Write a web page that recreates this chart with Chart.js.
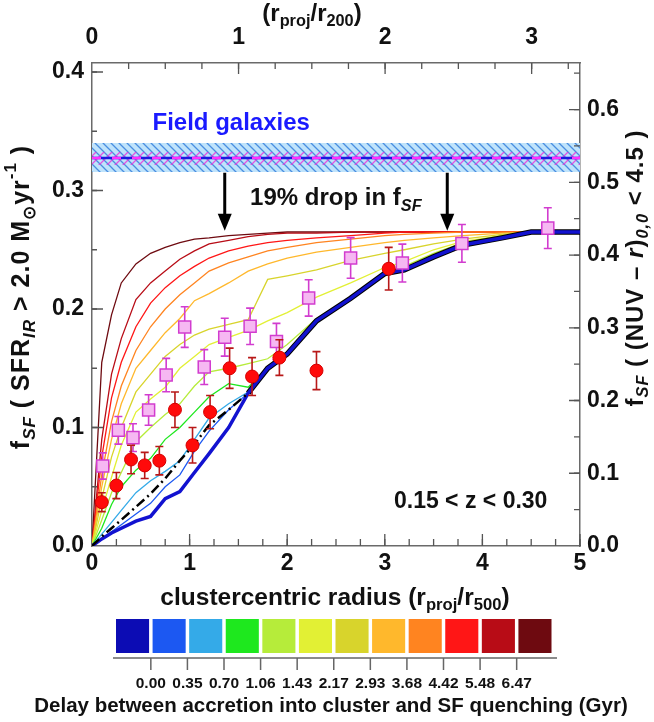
<!DOCTYPE html>
<html>
<head>
<meta charset="utf-8">
<script src="https://cdn.jsdelivr.net/npm/chart.js@4.4.1/dist/chart.umd.min.js"></script>
<style>
  html, body { margin: 0; padding: 0; background: #fff; }
  #wrap { width: 654px; height: 722px; }
</style>
</head>
<body>
<div id="wrap"><canvas id="c" width="654" height="722"></canvas></div>
<script>
// radial grid of the quenching models (r_proj / r500)
const radius = [0, 0.1, 0.2, 0.3, 0.45, 0.6, 0.75, 0.9, 1.05, 1.2, 1.4, 1.6, 1.8, 2.0, 2.3, 2.65, 3.0, 3.2, 3.5, 3.8, 4.2, 4.5, 5.0];

// model f_SF for each quenching delay
const delay000 = [0, 0.006, 0.011, 0.015, 0.021, 0.025, 0.040, 0.046, 0.062, 0.078, 0.100, 0.129, 0.150, 0.162, 0.190, 0.209, 0.230, 0.233, 0.244, 0.254, 0.260, 0.265, 0.265];
const delay035 = [0, 0.006, 0.012, 0.018, 0.027, 0.036, 0.050, 0.060, 0.080, 0.097, 0.115, 0.129, 0.150, 0.162, 0.190, 0.209, 0.230, 0.233, 0.244, 0.254, 0.260, 0.265, 0.265];
const delay070 = [0, 0.010, 0.020, 0.030, 0.045, 0.055, 0.063, 0.072, 0.090, 0.108, 0.120, 0.130, 0.150, 0.162, 0.190, 0.209, 0.230, 0.233, 0.244, 0.254, 0.260, 0.265, 0.265];
const delay106 = [0, 0.015, 0.035, 0.050, 0.064, 0.074, 0.090, 0.100, 0.113, 0.126, 0.137, 0.134, 0.150, 0.162, 0.190, 0.209, 0.230, 0.233, 0.244, 0.254, 0.260, 0.265, 0.265];
const delay143 = [0, 0.022, 0.045, 0.062, 0.088, 0.100, 0.111, 0.120, 0.135, 0.147, 0.150, 0.154, 0.158, 0.170, 0.192, 0.210, 0.228, 0.236, 0.247, 0.256, 0.262, 0.265, 0.265];
const delay217 = [0, 0.030, 0.058, 0.085, 0.113, 0.124, 0.134, 0.150, 0.160, 0.170, 0.176, 0.182, 0.190, 0.197, 0.210, 0.222, 0.235, 0.240, 0.250, 0.257, 0.262, 0.265, 0.265];
const delay293 = [0, 0.040, 0.075, 0.100, 0.130, 0.145, 0.160, 0.170, 0.178, 0.183, 0.187, 0.191, 0.225, 0.228, 0.233, 0.241, 0.247, 0.250, 0.255, 0.259, 0.263, 0.265, 0.265];
const delay368 = [0, 0.050, 0.090, 0.120, 0.150, 0.165, 0.180, 0.192, 0.207, 0.213, 0.222, 0.232, 0.238, 0.243, 0.248, 0.252, 0.256, 0.258, 0.260, 0.262, 0.264, 0.265, 0.265];
const delay442 = [0, 0.060, 0.105, 0.135, 0.165, 0.185, 0.200, 0.212, 0.222, 0.232, 0.239, 0.244, 0.249, 0.252, 0.256, 0.259, 0.262, 0.263, 0.264, 0.265, 0.265, 0.265, 0.265];
const delay548 = [0, 0.075, 0.125, 0.155, 0.185, 0.205, 0.218, 0.228, 0.236, 0.243, 0.249, 0.253, 0.256, 0.258, 0.260, 0.262, 0.264, 0.265, 0.265, 0.265, 0.265, 0.265, 0.265];
const delay647 = [0, 0.090, 0.145, 0.175, 0.208, 0.222, 0.232, 0.242, 0.249, 0.255, 0.258, 0.261, 0.263, 0.264, 0.264, 0.265, 0.265, 0.265, 0.265, 0.265, 0.265, 0.265, 0.265];
const delayMax = [0, 0.155, 0.195, 0.222, 0.238, 0.247, 0.252, 0.256, 0.259, 0.260, 0.262, 0.263, 0.264, 0.265, 0.265, 0.265, 0.265, 0.265, 0.265, 0.265, 0.265, 0.265, 0.265];
// dash-dot model, only out to where it joins the envelope
const dashDot = [0, 0.008, 0.015, 0.022, 0.033, 0.044, 0.057, 0.072, 0.086, 0.102, 0.115, 0.129];

// observed f_SF, IR selected (left axis)
const irR   = [0.10, 0.25, 0.40, 0.54, 0.69, 0.85, 1.03, 1.21, 1.41, 1.64, 1.92, 2.30, 3.04];
const irF   = [0.037, 0.051, 0.073, 0.068, 0.072, 0.115, 0.085, 0.113, 0.150, 0.143, 0.159, 0.148, 0.234];
const irErr = [0.008, 0.011, 0.012, 0.011, 0.012, 0.015, 0.015, 0.014, 0.017, 0.016, 0.015, 0.016, 0.018];

// observed f_SF, NUV-r selected (right axis)
const nuvR   = [0.11, 0.27, 0.42, 0.58, 0.76, 0.95, 1.15, 1.36, 1.62, 1.89, 2.22, 2.65, 3.18, 3.79, 4.67];
const nuvF   = [0.110, 0.159, 0.149, 0.187, 0.235, 0.301, 0.246, 0.287, 0.302, 0.281, 0.341, 0.396, 0.389, 0.416, 0.437];
const nuvErr = [0.018, 0.019, 0.019, 0.021, 0.023, 0.028, 0.024, 0.026, 0.025, 0.025, 0.025, 0.028, 0.026, 0.026, 0.028];

// field value with its uncertainty band
const fieldR   = [0, 5];
const fieldMid = [0.3274, 0.3274];
const fieldLo  = [0.3156, 0.3156];
const fieldHi  = [0.3401, 0.3401];
const fieldInLo = [0.3215, 0.3215];
const fieldInHi = [0.3325, 0.3325];

// drop arrows
const arrowR = [1.36, 3.64];
const arrowFrom = 0.315;
const arrowTo = 0.266;

// colour bar
const cbColors = ['#0c0cb4', '#1c58f2', '#34aae8', '#1ee81e', '#b6ec3a', '#e2f034', '#d8d42c', '#ffb82c', '#ff8420', '#ff1616', '#b80c16', '#6e0a10'];
const cbLabels = ['0.00', '0.35', '0.70', '1.06', '1.43', '2.17', '2.93', '3.68', '4.42', '5.48', '6.47'];

const FONT = "'Liberation Sans', Arial, sans-serif";
const canvas = document.getElementById('c');
const ctxMain = canvas.getContext('2d');

function hatch(bg, line, dir) {
    const p = document.createElement('canvas');
    p.width = 8; p.height = 8;
    const g = p.getContext('2d');
    if (bg) { g.fillStyle = bg; g.fillRect(0, 0, 8, 8); }
    g.strokeStyle = line;
    g.lineWidth = 1.3;
    g.beginPath();
    if (dir > 0) {
        g.moveTo(-4, 4); g.lineTo(4, 12); g.moveTo(0, 0); g.lineTo(8, 8); g.moveTo(4, -4); g.lineTo(12, 4);
    } else {
        g.moveTo(-4, 4); g.lineTo(4, -4); g.moveTo(0, 8); g.lineTo(8, 0); g.moveTo(4, 12); g.lineTo(12, 4);
    }
    g.stroke();
    return ctxMain.createPattern(p, 'repeat');
}

function xy(xs, ys) {
    return ys.map((v, i) => ({ x: xs[i], y: v }));
}

// rich text: parts = [{t, sub, sup, it}]
function setFont(c, p, size) {
    const s = (p.sub || p.sup) ? size * 0.68 : size;
    c.font = (p.it ? 'italic ' : '') + 'bold ' + s + 'px ' + FONT;
}
function drawRich(c, parts, x, y, size, align, spacing) {
    c.letterSpacing = (spacing || 0) + 'px';
    let w = 0;
    parts.forEach(p => { setFont(c, p, size); w += c.measureText(p.t).width; });
    let cx = x;
    if (align === 'center') cx = x - w / 2;
    else if (align === 'right') cx = x - w;
    c.textBaseline = 'middle';
    c.textAlign = 'left';
    parts.forEach(p => {
        setFont(c, p, size);
        let dy = 0;
        if (p.sub) dy = size * 0.32;
        if (p.sup) dy = -size * 0.42;
        c.fillText(p.t, cx, y + dy);
        cx += c.measureText(p.t).width;
    });
    c.letterSpacing = '0px';
}

const curveList = [
    [delayMax, cbColors[11], 1.3],
    [delay647, cbColors[10], 1.3],
    [delay548, cbColors[9], 1.3],
    [delay442, cbColors[8], 1.3],
    [delay368, cbColors[7], 1.3],
    [delay293, cbColors[6], 1.3],
    [delay217, cbColors[5], 1.3],
    [delay143, cbColors[4], 1.3],
    [delay106, cbColors[3], 1.3],
    [delay070, cbColors[2], 1.3],
    [delay035, cbColors[1], 1.3]
];

const datasets = [
    { data: xy(fieldR, fieldHi), borderWidth: 0, pointRadius: 0, fill: 1, backgroundColor: hatch('#bfe3fb', '#4a8ee0', 1), order: 100 },
    { data: xy(fieldR, fieldLo), borderWidth: 0, pointRadius: 0, fill: false, order: 100 },
    { data: xy(fieldR, fieldInHi), borderWidth: 0, pointRadius: 0, fill: 3, backgroundColor: hatch(null, 'rgba(230,60,220,0.85)', -1), order: 99 },
    { data: xy(fieldR, fieldInLo), borderWidth: 0, pointRadius: 0, fill: false, order: 99 },
    { data: xy(fieldR, fieldMid), borderColor: '#1a1ae0', borderWidth: 2.5, pointRadius: 0, fill: false, order: 98 },
    { data: xy(fieldR, fieldMid), borderColor: '#ff30ff', borderWidth: 2.5, borderDash: [9, 11], pointRadius: 0, fill: false, order: 97 }
];
curveList.forEach((c, i) => {
    datasets.push({ data: xy(radius, c[0]), borderColor: c[1], borderWidth: c[2], pointRadius: 0, fill: false, order: 60 - i });
});
// merged envelope (black) under the zero-delay curve
datasets.push({
    data: radius.map((r, i) => ({ x: r, y: r >= 1.55 ? delay000[i] : null })),
    borderColor: '#000', borderWidth: 5.5, pointRadius: 0, fill: false, spanGaps: false, order: 30
});
datasets.push({ data: xy(radius, delay000), borderColor: '#1212d0', borderWidth: 3.5, pointRadius: 0, fill: false, order: 25 });
datasets.push({ data: xy(radius, dashDot), borderColor: '#000', borderWidth: 2.5, borderDash: [10, 4, 2, 4], pointRadius: 0, fill: false, order: 20 });
datasets.push({
    data: xy(nuvR, nuvF), yAxisID: 'y1', showLine: false, pointStyle: 'rect', pointRadius: 8.5,
    backgroundColor: '#f6b8f2', borderColor: '#d23ccf', borderWidth: 1.5,
    errors: nuvErr, errColor: '#d23ccf', order: 5
});
datasets.push({
    data: xy(irR, irF), showLine: false, pointStyle: 'circle', pointRadius: 6.5,
    backgroundColor: '#ff0a0a', borderColor: '#d40000', borderWidth: 1,
    errors: irErr, errColor: '#b81818', order: 1
});

const errorBars = {
    id: 'errorBars',
    beforeDatasetDraw(chart, args) {
        const ds = chart.data.datasets[args.index];
        if (!ds.errors) return;
        const xs = chart.scales.x, ys = chart.scales[ds.yAxisID || 'y'];
        const c = chart.ctx;
        c.save();
        c.strokeStyle = ds.errColor;
        c.lineWidth = 1.6;
        ds.data.forEach((p, i) => {
            const px = xs.getPixelForValue(p.x);
            const a = ys.getPixelForValue(p.y - ds.errors[i]);
            const b = ys.getPixelForValue(p.y + ds.errors[i]);
            c.beginPath();
            c.moveTo(px, a); c.lineTo(px, b);
            c.moveTo(px - 4, a); c.lineTo(px + 4, a);
            c.moveTo(px - 4, b); c.lineTo(px + 4, b);
            c.stroke();
        });
        c.restore();
    }
};

function tickMarks(c, scale, step, len, side) {
    const n = Math.floor(scale.max / step + 1e-6);
    const area = scale.chart.chartArea;
    c.beginPath();
    for (let i = 1; i <= n; i++) {
        const p = scale.getPixelForValue(i * step);
        if (side === 'bottom') { c.moveTo(p, area.bottom); c.lineTo(p, area.bottom - len); }
        if (side === 'top') { c.moveTo(p, area.top); c.lineTo(p, area.top + len); }
        if (side === 'left') { c.moveTo(area.left, p); c.lineTo(area.left + len, p); }
        if (side === 'right') { c.moveTo(area.right, p); c.lineTo(area.right - len, p); }
    }
    c.stroke();
}

const decorations = {
    id: 'decorations',
    beforeDraw(chart) {
        const c = chart.ctx;
        c.save();
        c.fillStyle = '#fff';
        c.fillRect(0, 0, chart.width, chart.height);
        c.restore();
    },
    afterDatasetsDraw(chart) {
        const c = chart.ctx;
        const xs = chart.scales.x, ys = chart.scales.y;
        c.save();
        // arrows
        c.strokeStyle = '#000';
        c.fillStyle = '#000';
        arrowR.forEach(r => {
            const px = xs.getPixelForValue(r);
            const y0 = ys.getPixelForValue(arrowFrom);
            const y1 = ys.getPixelForValue(arrowTo);
            c.lineWidth = 3;
            c.beginPath(); c.moveTo(px, y0); c.lineTo(px, y1 - 14); c.stroke();
            c.beginPath(); c.moveTo(px - 7, y1 - 17); c.lineTo(px + 7, y1 - 17); c.lineTo(px, y1); c.closePath(); c.fill();
        });
        // texts
        c.fillStyle = '#1a1aff';
        drawRich(c, [{ t: 'Field galaxies' }], xs.getPixelForValue(0.62), ys.getPixelForValue(0.357), 24, 'left');
        c.fillStyle = '#111';
        drawRich(c, [{ t: '19% drop in f' }, { t: 'SF', sub: 1, it: 1 }], xs.getPixelForValue(1.62), ys.getPixelForValue(0.293), 24, 'left');
        drawRich(c, [{ t: '0.15 < z < 0.30' }], xs.getPixelForValue(3.88), ys.getPixelForValue(0.0375), 23, 'center');
        // inward ticks
        c.strokeStyle = '#555';
        c.lineWidth = 1.3;
        tickMarks(c, xs, 1, 12, 'bottom');
        tickMarks(c, xs, 0.25, 7, 'bottom');
        tickMarks(c, chart.scales.x2, 1, 11, 'top');
        tickMarks(c, chart.scales.x2, 0.25, 6, 'top');
        tickMarks(c, ys, 0.1, 11, 'left');
        tickMarks(c, ys, 0.05, 5, 'left');
        tickMarks(c, chart.scales.y1, 0.1, 11, 'right');
        tickMarks(c, chart.scales.y1, 0.05, 6, 'right');
        c.restore();
    },
    afterDraw(chart) {
        const c = chart.ctx;
        c.save();
        c.fillStyle = '#111';
        // axis titles
        drawRich(c, [{ t: '(r' }, { t: 'proj', sub: 1 }, { t: '/r' }, { t: '200', sub: 1 }, { t: ')' }], 312, 14, 24, 'center');
        drawRich(c, [{ t: 'clustercentric radius (r' }, { t: 'proj', sub: 1 }, { t: '/r' }, { t: '500', sub: 1 }, { t: ')' }], 335, 598, 24.5, 'center');
        c.save();
        c.translate(22, 297);
        c.rotate(-Math.PI / 2);
        drawRich(c, [{ t: 'f' }, { t: 'SF', sub: 1, it: 1 }, { t: ' ( SFR' }, { t: 'IR', sub: 1, it: 1 }, { t: ' > 2.0 M' }, { t: '\u2299', sub: 1 }, { t: 'yr' }, { t: '-1', sup: 1 }, { t: ' )' }], 0, 0, 25, 'center', 1);
        c.restore();
        c.save();
        c.translate(636, 268);
        c.rotate(-Math.PI / 2);
        drawRich(c, [{ t: 'f' }, { t: 'SF', sub: 1, it: 1 }, { t: ' ( (NUV \u2013 ' }, { t: 'r', it: 1 }, { t: ')' }, { t: '0,0', sub: 1, it: 1 }, { t: ' < 4.5 )' }], 0, 0, 24, 'center', 1);
        c.restore();

        // colour bar
        const left = 116, right = 555, top = 619, bottom = 653, gap = 3.5;
        const pitch = (right - left) / cbColors.length;
        cbColors.forEach((col, i) => {
            c.fillStyle = col;
            c.fillRect(left + i * pitch, top, pitch - gap, bottom - top);
        });
        c.strokeStyle = '#666';
        c.lineWidth = 1.5;
        c.beginPath();
        c.moveTo(left - 3, 658); c.lineTo(right + 2, 658);
        cbLabels.forEach((l, i) => {
            const bx = left + (i + 1) * pitch - gap / 2;
            c.moveTo(bx, 658); c.lineTo(bx, 670);
        });
        c.stroke();
        c.fillStyle = '#111';
        cbLabels.forEach((l, i) => {
            const bx = left + (i + 1) * pitch - gap / 2;
            drawRich(c, [{ t: l }], bx, 684, 15.5, 'center');
        });
        drawRich(c, [{ t: 'Delay between accretion into cluster and SF quenching (Gyr)' }], 331, 706, 20.5, 'center');
        c.restore();
    }
};

function fixed(list) {
    return function (scale) { scale.ticks = list.map(v => ({ value: v })); };
}
const tickFont = { family: FONT, size: 23, weight: 'bold' };
const axisBorder = { display: true, color: '#6a6a6a', width: 1.5 };

new Chart(canvas, {
    type: 'line',
    data: { datasets: datasets },
    options: {
        responsive: false,
        devicePixelRatio: 1,
        animation: false,
        events: [],
        layout: { padding: { top: 0, left: 0, right: 0, bottom: 106 } },
        plugins: { legend: { display: false }, tooltip: { enabled: false } },
        scales: {
            x: {
                type: 'linear', position: 'bottom', min: 0, max: 5,
                afterBuildTicks: fixed([0, 1, 2, 3, 4, 5]),
                afterFit: s => { s.height = 70; },
                grid: { display: false, drawTicks: false },
                border: axisBorder,
                ticks: { color: '#111', font: tickFont, padding: 4, maxRotation: 0, callback: v => String(v) }
            },
            x2: {
                type: 'linear', position: 'top', min: 0, max: 3.33,
                afterBuildTicks: fixed([0, 1, 2, 3]),
                afterFit: s => { s.height = 63; },
                grid: { display: false, drawTicks: false },
                border: axisBorder,
                ticks: { color: '#111', font: tickFont, padding: 12, maxRotation: 0, callback: v => String(v) }
            },
            y: {
                type: 'linear', position: 'left', min: 0, max: 0.4076,
                afterBuildTicks: fixed([0, 0.1, 0.2, 0.3, 0.4]),
                afterFit: s => { s.width = 92; },
                grid: { display: false, drawTicks: false },
                border: axisBorder,
                ticks: { color: '#111', font: tickFont, padding: 8, callback: v => v.toFixed(1) }
            },
            y1: {
                type: 'linear', position: 'right', min: 0, max: 0.664,
                afterBuildTicks: fixed([0, 0.1, 0.2, 0.3, 0.4, 0.5, 0.6]),
                afterFit: s => { s.width = 74; },
                grid: { display: false, drawTicks: false },
                border: axisBorder,
                ticks: { color: '#111', font: tickFont, padding: 7, callback: v => v.toFixed(1) }
            }
        }
    },
    plugins: [errorBars, decorations]
});
</script>
</body>
</html>
